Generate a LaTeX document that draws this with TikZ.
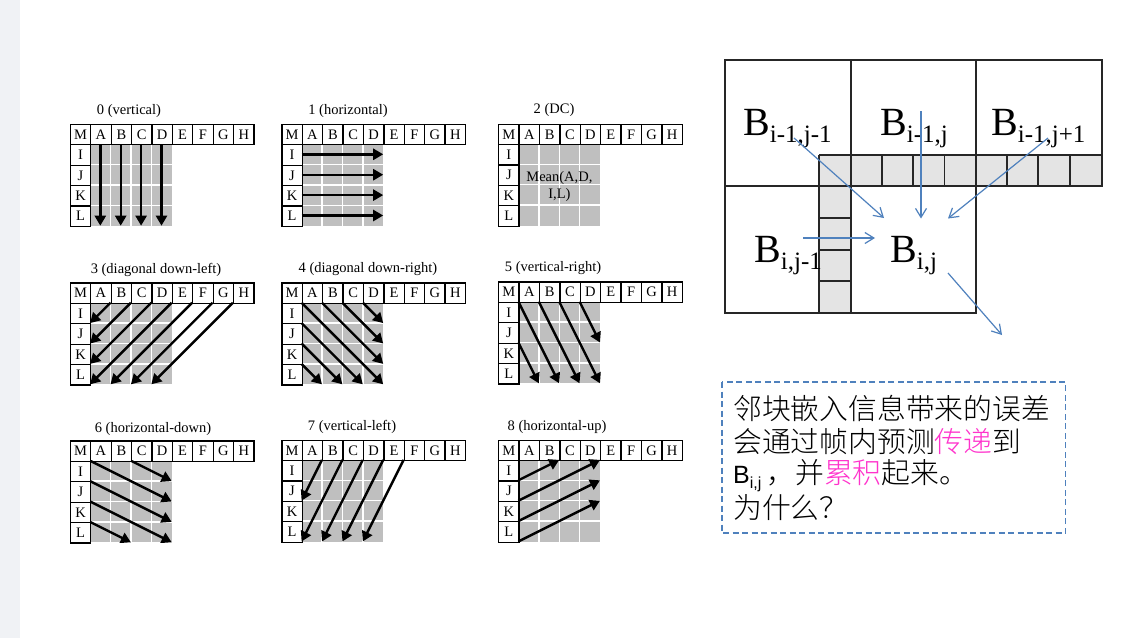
\documentclass[tikz,border=0pt]{standalone}
\usepackage{fontspec}
\setmainfont{Liberation Serif}
\newfontfamily\arialf{Liberation Sans}
\newfontfamily\cjk{Noto Sans CJK SC Light}
\usetikzlibrary{arrows.meta}
\definecolor{gridgray}{HTML}{BFBFBF}
\definecolor{stripgray}{HTML}{E4E4E4}
\definecolor{flowblue}{HTML}{4F81BD}
\definecolor{hilite}{HTML}{FF33CC}
\definecolor{sidebar}{HTML}{F0F2F5}
\tikzset{
  x=1pt,y=-1pt,
  cellbox/.style={draw=black,line width=1.3pt,fill=white,minimum width=20.4pt,minimum height=20.4pt,inner sep=0pt,font=\fontsize{14.5}{14.5}\selectfont,anchor=north west},
  paneltitle/.style={inner sep=0pt,font=\fontsize{14.5}{15}\selectfont},
  predarrow/.style={draw=black,line width=2.4pt,-{Triangle[length=10pt,width=11pt]}},
  flowarrow/.style={draw=flowblue,line width=1.2pt,-{Straight Barb[length=9pt,width=11pt,line width=1.2pt]}},
  blockline/.style={draw=black!85,line width=1.4pt},
  blocklabel/.style={inner sep=0pt,anchor=base west},
  notebox/.style={draw=flowblue,line width=1.2pt,dash pattern=on 6pt off 3.5pt},
  noteline/.style={inner sep=0pt,anchor=west,font=\cjk\fontsize{28.8}{30}\selectfont},
}
% \panel{name}{x}{y}: header row, left column and grey 4x4 prediction block
\newcommand{\panel}[3]{%
  \fill[gridgray] (#2+20.4,#3+20.4) rectangle (#2+102,#3+102);
  \foreach \k in {1,2,3} {
    \draw[white,line width=1.4pt] (#2+20.4+\k*20.4,#3+20.4) -- (#2+20.4+\k*20.4,#3+102);
    \draw[white,line width=1.4pt] (#2+20.4,#3+20.4+\k*20.4) -- (#2+102,#3+20.4+\k*20.4);
  }
  \foreach \t [count=\n from 0] in {M,A,B,C,D,E,F,G,H}
    \node[cellbox] (#1-\t) at (#2+\n*20.4,#3) {\t};
  \foreach \t [count=\n from 1] in {I,J,K,L}
    \node[cellbox] (#1-\t) at (#2,#3+\n*20.4) {\t};
  \coordinate (O) at (#2+20.4,#3+20.4);
}
% arrow in cell units of the grey block of the last panel
\newcommand{\arr}[4]{\draw[predarrow] ([shift={(#1*20.4,#2*20.4)}]O) -- ([shift={(#3*20.4,#4*20.4)}]O);}
\begin{document}
\begin{tikzpicture}
\useasboundingbox (0,0) rectangle (1126,638);
\fill[white] (0,0) rectangle (1126,638);
\fill[sidebar] (0,0) rectangle (20,638);

% row 1
\panel{a}{69.7}{123.7}
\foreach \x in {0.5,1.5,2.5,3.5} {\arr{\x}{0}{\x}{4}}
\node[paneltitle] (ta) at (129,111) {0 (vertical)};

\panel{b}{281.2}{123.7}
\foreach \y in {0.5,1.5,2.5,3.5} {\arr{0}{\y}{4}{\y}}
\node[paneltitle] (tb) at (348,111) {1 (horizontal)};

\panel{c}{498}{123.5}
\node[inner sep=0pt,align=center,font=\fontsize{14.5}{17}\selectfont] (mean) at ([shift={(41,43)}]O) {Mean(A,D,\\I,L)};
\node[paneltitle] (tc) at (554,110) {2 (DC)};

% row 2
\panel{d}{69.7}{282.3}
\arr{1}{0}{0}{1}\arr{2}{0}{0}{2}\arr{3}{0}{0}{3}\arr{4}{0}{0}{4}\arr{5}{0}{1}{4}\arr{6}{0}{2}{4}\arr{7}{0}{3}{4}
\node[paneltitle] (td) at (156,270) {3 (diagonal down-left)};

\panel{e}{281.2}{282.3}
\arr{0}{0}{4}{4}\arr{1}{0}{4}{3}\arr{2}{0}{4}{2}\arr{3}{0}{4}{1}\arr{0}{1}{3}{4}\arr{0}{2}{2}{4}\arr{0}{3}{1}{4}
\node[paneltitle] (te) at (368,269) {4 (diagonal down-right)};

\panel{f}{498}{281.3}
\arr{0}{0}{2}{4}\arr{1}{0}{3}{4}\arr{2}{0}{4}{4}\arr{3}{0}{4}{2}\arr{0}{2}{1}{4}
\node[paneltitle] (tf) at (553,268) {5 (vertical-right)};

% row 3
\panel{g}{69.7}{440.3}
\begin{scope}
  \clip (90,460.7) rectangle (172,542.7);
  \arr{0}{0}{4}{2}\arr{2}{0}{4}{1}\arr{0}{1}{4}{3}\arr{0}{2}{4}{4}\arr{0}{3}{2}{4}
\end{scope}
\node[paneltitle] (tg) at (153,429) {6 (horizontal-down)};

\panel{h}{281.2}{439.5}
\arr{1}{0}{0}{2}\arr{2}{0}{0}{4}\arr{3}{0}{1}{4}\arr{4}{0}{2}{4}\arr{5}{0}{3}{4}
\node[paneltitle] (th) at (352,427) {7 (vertical-left)};

\panel{i}{498}{439.5}
\arr{0}{1}{2}{0}\arr{0}{2}{4}{0}\arr{0}{3}{4}{1}\arr{0}{4}{4}{2}
\node[paneltitle] (ti) at (557,427) {8 (horizontal-up)};

% block diagram
\fill[stripgray] (819,155) rectangle (1102,186);
\fill[stripgray] (819,186) rectangle (851,313);
\draw[blockline] (725,60) rectangle (1102,186);
\draw[blockline] (725,186) rectangle (976,313);
\draw[blockline] (851,60) -- (851,313);
\draw[blockline] (976,60) -- (976,186);
\draw[blockline] (819,155) -- (1102,155);
\draw[blockline] (819,155) -- (819,313);
\foreach \x in {882,913,944.5,1007,1038,1070} \draw[blockline] (\x,155) -- (\x,186);
\foreach \y in {218,250,281} \draw[blockline] (819,\y) -- (851,\y);

\newcommand{\blk}[2]{{\fontsize{40}{40}\selectfont #1}{\fontsize{25}{25}\selectfont\raisebox{-7pt}{#2}}}
\node[blocklabel] (b1) at (743,135) {\blk{B}{i-1,j-1}};
\node[blocklabel] (b2) at (880,135) {\blk{B}{i-1,j}};
\node[blocklabel] (b3) at (991,135) {\blk{B}{i-1,j+1}};
\node[blocklabel] (b4) at (754,262) {\blk{B}{i,j-1}};
\node[blocklabel] (b5) at (890,262) {\blk{B}{i,j}};

\coordinate (s1) at (794,138); \coordinate (e1) at (884,218);
\coordinate (s2) at (921,111); \coordinate (e2) at (921,218.5);
\coordinate (s3) at (1048,138); \coordinate (e3) at (948,218.5);
\coordinate (s4) at (803,238); \coordinate (e4) at (875,238);
\coordinate (s5) at (948,273); \coordinate (e5) at (1002,335);
\draw[flowarrow] (s1) -- (e1);
\draw[flowarrow] (s2) -- (e2);
\draw[flowarrow] (s3) -- (e3);
\draw[flowarrow] (s4) -- (e4);
\draw[flowarrow] (s5) -- (e5);

% note
\draw[notebox] (722,382) rectangle (1065.5,533);
\node[noteline] (n1) at (733,408) {邻块嵌入信息带来的误差};
\node[noteline] (n2) at (733,442) {会通过帧内预测\textcolor{hilite}{传递}到};
\node[noteline] (n3) at (733,476) {{\arialf\fontsize{25}{25}\selectfont B\raisebox{-5pt}{\fontsize{16}{16}\selectfont i,j}}\hspace{5pt}，并\textcolor{hilite}{累积}起来。};
\node[noteline] (n4) at (733,508) {为什么？};
\end{tikzpicture}
\end{document}
